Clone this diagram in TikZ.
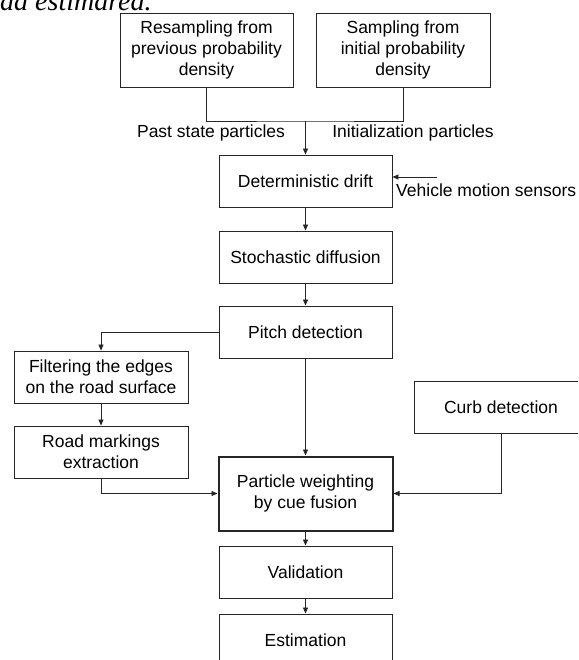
\documentclass[tikz,border=0pt]{standalone}
\usepackage{fontspec}
\setmainfont{Liberation Sans}
\newfontfamily\timesfont{Liberation Serif}
\usetikzlibrary{arrows.meta}
\begin{document}
\begin{tikzpicture}[x=1pt,y=-1pt,
  box/.style={draw=black!85, line width=0.9pt, fill=white, align=center,
    inner sep=0pt, font=\fontsize{17.5}{21}\selectfont},
  lbl/.style={font=\fontsize{17.5}{21}\selectfont, inner sep=0pt},
  link/.style={draw=black!85, line width=0.8pt},
  arr/.style={link, -{Triangle[length=6pt,width=5pt]}}]
\useasboundingbox (0,0) rectangle (578,660);
\clip (0,0) rectangle (578,660);
\fill[white] (0,0) rectangle (578,660);

\node[anchor=base west, inner sep=0pt,
  font=\timesfont\itshape\fontsize{28}{32}\selectfont] (frag) at (0,11) {da estimarea.};

\node[box, minimum width=173pt, minimum height=74pt] (res) at (206.5,50)
  {Resampling from\\previous probability\\density};
\node[box, minimum width=174pt, minimum height=74pt] (samp) at (403,50)
  {Sampling from\\initial probability\\density};
\node[box, minimum width=173pt, minimum height=52pt] (drift) at (305.5,181)
  {Deterministic drift};
\node[box, minimum width=173pt, minimum height=52pt] (stoch) at (305.5,257)
  {Stochastic diffusion};
\node[box, minimum width=173pt, minimum height=52pt] (pitch) at (305.5,332)
  {Pitch detection};
\node[box, minimum width=174pt, minimum height=52pt] (filt) at (101,377)
  {Filtering the edges\\on the road surface};
\node[box, minimum width=174pt, minimum height=52pt] (road) at (101,452)
  {Road markings\\extraction};
\node[box, minimum width=174pt, minimum height=52pt] (curb) at (501,407)
  {Curb detection};
\node[box, line width=2pt, minimum width=174pt, minimum height=74pt] (part) at (305.5,493.5)
  {Particle weighting\\by cue fusion};
\node[box, minimum width=173pt, minimum height=52pt] (valid) at (305.5,572)
  {Validation};
\node[box, minimum width=173pt, minimum height=52pt] (estim) at (305.5,640)
  {Estimation};

\node[lbl] (past) at (211,133) {Past state particles};
\node[lbl] (init) at (413,133) {Initialization particles};
\node[lbl, anchor=west] (veh) at (396,190) {Vehicle motion sensors};

\coordinate (j) at (305.5,121);
\coordinate (vs) at (437,177);

\draw[link] (res.south) |- (j) -| (samp.south);
\draw[arr] (j) -- (drift.north);
\draw[arr] (vs) -- (drift.east |- vs);
\draw[arr] (drift) -- (stoch);
\draw[arr] (stoch) -- (pitch);
\draw[arr] (pitch.west) -| (filt.north);
\draw[arr] (filt) -- (road);
\draw[arr] (pitch) -- (part);
\draw[arr] (road.south) |- (part.west);
\draw[arr] (curb.south) |- (part.east);
\draw[arr] (part) -- (valid);
\draw[arr] (valid) -- (estim);
\end{tikzpicture}
\end{document}
